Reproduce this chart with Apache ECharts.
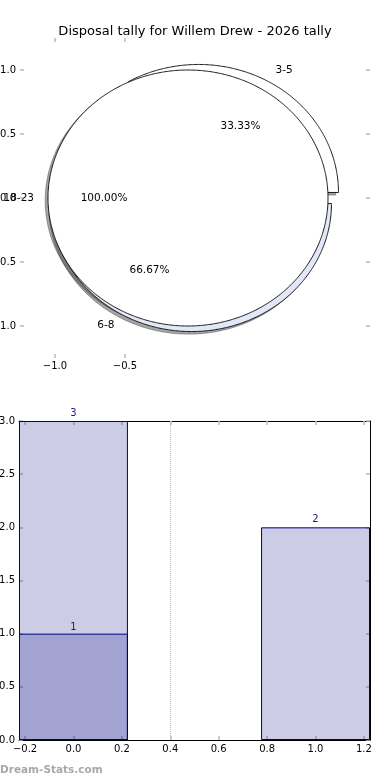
<!DOCTYPE html>
<html>
<head>
<meta charset="utf-8">
<script src="https://cdn.jsdelivr.net/npm/echarts@6/dist/echarts.min.js"></script>
<style>
html,body{margin:0;padding:0;background:#fff;}
#chart{width:390px;height:780px;}
</style>
</head>
<body>
<div id="chart"></div>
<script>
// ---- data ----
const titleText = 'Disposal tally for Willem Drew - 2026 tally';
const pieLabelsA = ['18-23'];
const pieValuesA = [3];
const pieLabelsB = ['3-5', '6-8'];
const pieValuesB = [1, 2];
const pieFillsA = ['#ffffff'];
const pieFillsB = ['#ffffff', '#e2e8f8'];
const pieXTicks = [-1, -0.5];
const pieYTicks = [-1, -0.5, 0, 0.5, 1];
const barPositions = [0, 1];
const barTotals = [3, 2];
const barSubsetPositions = [0];
const barSubsetValues = [1];
const barXTicks = [-0.2, 0, 0.2, 0.4, 0.6, 0.8, 1.0, 1.2];
const barYTicks = [0, 0.5, 1, 1.5, 2, 2.5, 3];
const dividerX = 0.4;
const watermark = 'Dream-Stats.com';

// ---- layout constants ----
const EXPLODE = 0.05;
const BAR_WIDTH_UNITS = 0.45;
const PIE_GRID = {left: 20, top: 38, width: 350, height: 320};
const BAR_GRID = {left: 19, top: 421, width: 351, height: 319};
const BAR_XMIN = -0.225, BAR_XMAX = 1.225;
const FONT = '"DejaVu Sans", sans-serif';
const TICK_GREY = '#bcbcbc';

function fmt(v) { return (v < 0 ? '\u2212' : '') + Math.abs(v).toFixed(1); }

function buildWedges(labels, values, fills) {
  const total = values.reduce((a, b) => a + b, 0);
  let start = 0;
  return values.map((v, i) => {
    const sweep = v / total * 360;
    const mid = (start + sweep / 2) * Math.PI / 180;
    const w = {
      label: labels[i], value: v, pct: (v / total * 100).toFixed(2) + '%',
      a0: start, a1: start + sweep, mid: mid, full: sweep >= 359.999,
      cx: EXPLODE * Math.cos(mid), cy: EXPLODE * Math.sin(mid), fill: fills[i]
    };
    start += sweep;
    return w;
  });
}
// pie B drawn first, pie A (full circle) on top
const wedgeList = buildWedges(pieLabelsB, pieValuesB, pieFillsB)
  .concat(buildWedges(pieLabelsA, pieValuesA, pieFillsA));

function wedgePoints(api, w, dx, dy) {
  const pts = [];
  const cx = w.cx + dx, cy = w.cy + dy;
  if (!w.full) pts.push(api.coord([cx, cy]));
  const n = Math.max(8, Math.ceil((w.a1 - w.a0) / 0.5));
  for (let k = 0; k <= n; k++) {
    const a = (w.a0 + (w.a1 - w.a0) * k / n) * Math.PI / 180;
    pts.push(api.coord([cx + Math.cos(a), cy + Math.sin(a)]));
  }
  return pts;
}

const chart = echarts.init(document.getElementById('chart'), null, {renderer: 'canvas'});

const tickStyle = {lineStyle: {color: TICK_GREY, width: 1.5}};
const labelStyle = {color: '#000', fontSize: 10, fontFamily: FONT};
const frameLine = {show: true, onZero: false, lineStyle: {color: '#000', width: 1}};

const option = {
  animation: false,
  backgroundColor: '#fff',
  title: {
    text: titleText, left: 'center', top: 20,
    textStyle: {fontSize: 13, fontWeight: 'normal', color: '#000', fontFamily: FONT}
  },
  graphic: [{
    type: 'text', left: 0, top: 765,
    style: {text: watermark, fill: '#a8a8a8', font: 'bold 10.5px ' + FONT}
  }],
  grid: [
    Object.assign({containLabel: false, outerBoundsMode: 'none'}, PIE_GRID),
    Object.assign({containLabel: false, outerBoundsMode: 'none'}, BAR_GRID)
  ],
  xAxis: [
    {gridIndex: 0, type: 'value', min: -1.25, max: 1.25, position: 'bottom',
     axisLine: {show: false, onZero: false}, splitLine: {show: false},
     axisTick: Object.assign({show: true, inside: true, length: 4, customValues: pieXTicks}, tickStyle),
     axisLabel: Object.assign({show: true, margin: 3, customValues: pieXTicks, formatter: fmt}, labelStyle)},
    {gridIndex: 0, type: 'value', min: -1.25, max: 1.25, position: 'top',
     axisLine: {show: false, onZero: false}, splitLine: {show: false},
     axisTick: Object.assign({show: true, inside: true, length: 4, customValues: pieXTicks}, tickStyle),
     axisLabel: {show: false}},
    {gridIndex: 1, type: 'value', min: BAR_XMIN, max: BAR_XMAX, position: 'bottom',
     axisLine: frameLine, splitLine: {show: false},
     axisTick: Object.assign({show: true, inside: true, length: 4, customValues: barXTicks}, tickStyle),
     axisLabel: Object.assign({show: true, margin: 4, customValues: barXTicks, formatter: fmt}, labelStyle)},
    {gridIndex: 1, type: 'value', min: BAR_XMIN, max: BAR_XMAX, position: 'top',
     axisLine: frameLine, splitLine: {show: false},
     axisTick: Object.assign({show: true, inside: true, length: 4, customValues: barXTicks}, tickStyle),
     axisLabel: {show: false}}
  ],
  yAxis: [
    {gridIndex: 0, type: 'value', min: -1.25, max: 1.25, position: 'left',
     axisLine: {show: false, onZero: false}, splitLine: {show: false},
     axisTick: Object.assign({show: true, inside: true, length: 4, customValues: pieYTicks}, tickStyle),
     axisLabel: Object.assign({show: true, margin: 4, customValues: pieYTicks, formatter: fmt}, labelStyle)},
    {gridIndex: 0, type: 'value', min: -1.25, max: 1.25, position: 'right',
     axisLine: {show: false, onZero: false}, splitLine: {show: false},
     axisTick: Object.assign({show: true, inside: true, length: 4, customValues: pieYTicks}, tickStyle),
     axisLabel: {show: false}},
    {gridIndex: 1, type: 'value', min: 0, max: 3, position: 'left',
     axisLine: frameLine, splitLine: {show: false},
     axisTick: Object.assign({show: true, inside: true, length: 4, customValues: barYTicks}, tickStyle),
     axisLabel: Object.assign({show: true, margin: 4, customValues: barYTicks, formatter: fmt}, labelStyle)},
    {gridIndex: 1, type: 'value', min: 0, max: 3, position: 'right',
     axisLine: frameLine, splitLine: {show: false},
     axisTick: Object.assign({show: true, inside: true, length: 4, customValues: barYTicks}, tickStyle),
     axisLabel: {show: false}}
  ],
  series: [
    { // shadows (below all wedges)
      type: 'custom', xAxisIndex: 0, yAxisIndex: 0, z: 1, clip: false, silent: true,
      data: wedgeList.map((w, i) => [w.cx, w.cy, i]),
      encode: {x: 0, y: 1},
      renderItem: function (params, api) {
        const w = wedgeList[params.dataIndex];
        return {type: 'polygon', shape: {points: wedgePoints(api, w, -0.02, -0.02)},
          style: {fill: 'rgba(77,77,77,0.5)', stroke: 'rgba(77,77,77,0.5)', lineWidth: 1}};
      }
    },
    { // wedges
      type: 'custom', xAxisIndex: 0, yAxisIndex: 0, z: 2, clip: false, silent: true,
      data: wedgeList.map((w, i) => [w.cx, w.cy, i]),
      encode: {x: 0, y: 1},
      renderItem: function (params, api) {
        const w = wedgeList[params.dataIndex];
        return {type: 'polygon', shape: {points: wedgePoints(api, w, 0, 0)},
          style: {fill: w.fill, stroke: '#000', lineWidth: 0.9}};
      }
    },
    { // wedge labels
      type: 'custom', xAxisIndex: 0, yAxisIndex: 0, z: 5, clip: false, silent: true,
      data: wedgeList.map((w, i) => [w.cx, w.cy, i]),
      encode: {x: 0, y: 1},
      renderItem: function (params, api) {
        const w = wedgeList[params.dataIndex];
        const ox = w.cx + 1.1 * Math.cos(w.mid), oy = w.cy + 1.1 * Math.sin(w.mid);
        const px = w.cx + 0.6 * Math.cos(w.mid), py = w.cy + 0.6 * Math.sin(w.mid);
        const po = api.coord([ox, oy]), pp = api.coord([px, py]);
        const font = '10.5px ' + FONT;
        return {type: 'group', children: [
          {type: 'text', x: po[0], y: po[1], style: {text: w.label, fill: '#000', font: font,
            align: ox > 0 ? 'left' : 'right', verticalAlign: 'middle'}},
          {type: 'text', x: pp[0], y: pp[1], style: {text: w.pct, fill: '#000', font: font,
            align: 'center', verticalAlign: 'middle'}}
        ]};
      }
    },
    { // totals bars
      type: 'bar', xAxisIndex: 2, yAxisIndex: 2, z: 2,
      data: barPositions.map((x, i) => [x, barTotals[i]]),
      barWidth: BAR_WIDTH_UNITS * BAR_GRID.width / (BAR_XMAX - BAR_XMIN),
      barGap: '-100%',
      itemStyle: {color: 'rgba(0,0,128,0.2)', borderColor: '#000080', borderWidth: 1},
      label: {show: true, position: 'top', distance: 3, color: '#1a1a8c', fontSize: 10, fontFamily: FONT},
      markLine: {
        silent: true, symbol: ['none', 'none'], label: {show: false},
        lineStyle: {type: 'dotted', color: '#bdbdbd', width: 1},
        data: [{xAxis: dividerX}]
      }
    },
    { // subset bars
      type: 'bar', xAxisIndex: 2, yAxisIndex: 2, z: 3,
      data: barSubsetPositions.map((x, i) => [x, barSubsetValues[i]]),
      barWidth: BAR_WIDTH_UNITS * BAR_GRID.width / (BAR_XMAX - BAR_XMIN),
      barGap: '-100%',
      itemStyle: {color: 'rgba(0,0,128,0.2)', borderColor: '#000080', borderWidth: 1},
      label: {show: true, position: 'top', distance: 1, color: '#1a1a8c', fontSize: 10, fontFamily: FONT}
    }
  ]
};
chart.setOption(option);
</script>
</body>
</html>
